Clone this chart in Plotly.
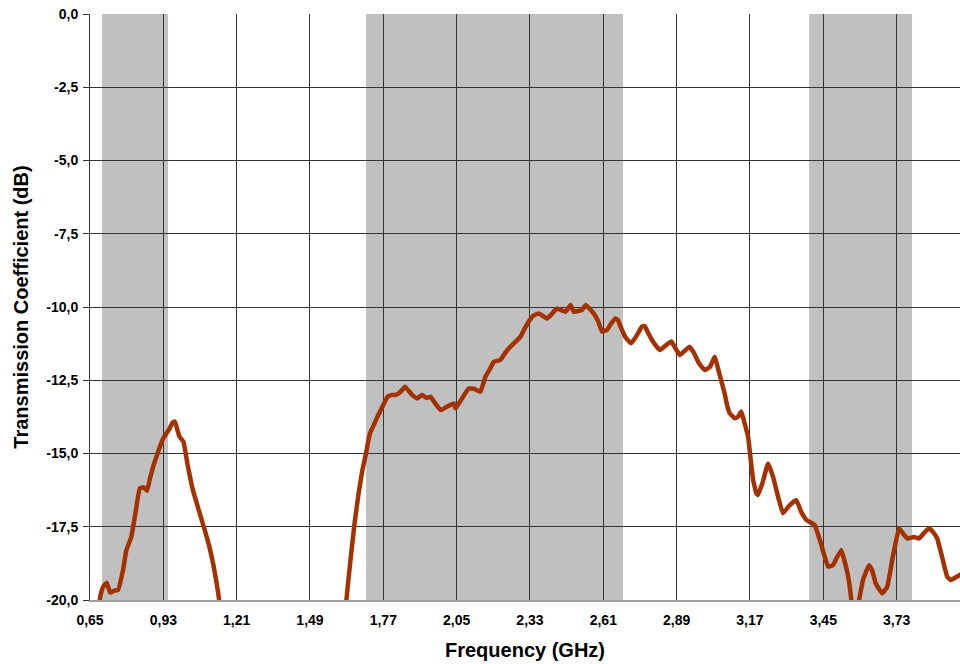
import plotly.graph_objects as go

# Frequency (GHz) and transmission coefficient (dB)
freq = [
    0.680, 0.690, 0.700, 0.714, 0.727, 0.742, 0.757, 0.776, 0.789, 0.808, 0.824, 0.840,
    0.854, 0.868, 0.879, 0.891, 0.904, 0.917, 0.929, 0.942, 0.954, 0.964, 0.974, 0.984,
    0.992, 1.007, 1.023, 1.043, 1.066, 1.088, 1.105, 1.120, 1.133, 1.143, 1.156,
    1.618, 1.629, 1.645, 1.660, 1.675, 1.689, 1.704, 1.719, 1.735, 1.748, 1.767, 1.786,
    1.803, 1.818, 1.835, 1.853, 1.866, 1.880, 1.899, 1.918, 1.934, 1.950, 1.969, 1.989,
    2.014, 2.039, 2.046, 2.072, 2.096, 2.118, 2.141, 2.160, 2.178, 2.192, 2.217, 2.233,
    2.249, 2.273, 2.294, 2.312, 2.325, 2.342, 2.363, 2.395, 2.412, 2.433, 2.466, 2.485,
    2.497, 2.529, 2.543, 2.573, 2.591, 2.605, 2.624, 2.641, 2.656, 2.666, 2.681, 2.696,
    2.716, 2.736, 2.757, 2.768, 2.782, 2.805, 2.826, 2.850, 2.870, 2.885, 2.902, 2.920,
    2.940, 2.955, 2.974, 2.997, 3.017, 3.035, 3.054, 3.073, 3.084, 3.093, 3.112, 3.124,
    3.137, 3.149, 3.163, 3.174, 3.182, 3.194, 3.200, 3.218, 3.239, 3.258, 3.278, 3.296,
    3.318, 3.347, 3.366, 3.386, 3.417, 3.442, 3.468, 3.487, 3.502, 3.519, 3.532, 3.545,
    3.557, 3.565, 3.579, 3.587, 3.602, 3.625, 3.637, 3.650, 3.675, 3.694, 3.716, 3.739,
    3.756, 3.771, 3.796, 3.816, 3.836, 3.854, 3.871, 3.885, 3.900, 3.923, 3.936, 3.961,
    3.980,
]
s21 = [
    -20.40, -19.85, -19.55, -19.41, -19.75, -19.68, -19.66, -18.98, -18.30, -17.84, -17.00, -16.19,
    -16.15, -16.27, -15.85, -15.45, -15.10, -14.77, -14.50, -14.31, -14.15, -13.95, -13.91, -14.20,
    -14.43, -14.60, -15.40, -16.25, -16.95, -17.61, -18.15, -18.75, -19.40, -20.00, -21.50,
    -21.50, -20.00, -18.60, -17.40, -16.40, -15.62, -14.99, -14.31, -14.00, -13.74, -13.40, -13.06,
    -13.00, -13.00, -12.90, -12.72, -12.85, -13.00, -13.12, -13.00, -13.10, -13.06, -13.30, -13.52,
    -13.40, -13.29, -13.46, -13.10, -12.78, -12.80, -12.89, -12.38, -12.10, -11.87, -11.81, -11.60,
    -11.41, -11.20, -11.01, -10.70, -10.50, -10.30, -10.22, -10.39, -10.25, -10.05, -10.16, -9.93,
    -10.16, -10.10, -9.93, -10.22, -10.50, -10.84, -10.78, -10.55, -10.39, -10.45, -10.78, -11.05,
    -11.24, -11.00, -10.67, -10.65, -10.90, -11.25, -11.47, -11.30, -11.18, -11.40, -11.64, -11.50,
    -11.36, -11.55, -11.90, -12.15, -12.05, -11.70, -12.30, -12.94, -13.40, -13.63, -13.80, -13.75,
    -13.57, -13.95, -14.43, -15.30, -15.90, -16.35, -16.42, -16.00, -15.34, -15.79, -16.50, -17.04,
    -16.80, -16.59, -17.00, -17.27, -17.44, -18.10, -18.86, -18.81, -18.55, -18.29, -18.70, -19.20,
    -20.00, -20.80, -20.80, -20.00, -19.30, -18.81, -19.00, -19.43, -19.77, -19.55, -18.50, -17.55,
    -17.75, -17.90, -17.85, -17.90, -17.70, -17.55, -17.70, -17.90, -18.40, -19.20, -19.32, -19.20,
    -19.10,
]

# Shaded frequency bands (GHz)
band_start = [0.696, 1.704, 3.396]
band_end = [0.948, 2.685, 3.789]

x_ticks = [0.65, 0.93, 1.21, 1.49, 1.77, 2.05, 2.33, 2.61, 2.89, 3.17, 3.45, 3.73]
y_ticks = [0.0, -2.5, -5.0, -7.5, -10.0, -12.5, -15.0, -17.5, -20.0]
x_labels = [f"{v:.2f}".replace(".", ",") for v in x_ticks]
y_labels = [f"{v:.1f}".replace(".", ",") for v in y_ticks]

fig = go.Figure()
fig.add_trace(go.Scatter(
    x=freq, y=s21, mode="lines",
    line=dict(color="#A33200", width=4.5, shape="spline", smoothing=0.3),
    showlegend=False, hoverinfo="x+y",
))

for a, b in zip(band_start, band_end):
    fig.add_shape(type="rect", xref="x", yref="paper", x0=a, x1=b, y0=0, y1=1,
                  fillcolor="#C0C0C0", line=dict(width=0), layer="below")

font_fam = "Liberation Sans, Arial, sans-serif"
fig.update_layout(
    width=960, height=664,
    margin=dict(l=90, r=0, t=14, b=64),
    paper_bgcolor="white", plot_bgcolor="white",
    font=dict(family=font_fam, color="black"),
    xaxis=dict(
        range=[0.65, 3.972], tickvals=x_ticks, ticktext=x_labels,
        showgrid=True, gridcolor="#333333", gridwidth=1,
        showline=True, linecolor="#A0A0A0", linewidth=2,
        ticks="", ticklabelstandoff=6,
        tickfont=dict(size=14, family=font_fam, weight="bold"),
        title=dict(text="<b>Frequency (GHz)</b>", font=dict(size=20), standoff=16),
        zeroline=False,
    ),
    yaxis=dict(
        range=[-20, 0], tickvals=y_ticks, ticktext=y_labels,
        showgrid=True, gridcolor="#333333", gridwidth=1,
        showline=True, linecolor="#333333", linewidth=1,
        ticks="outside", ticklen=6, tickcolor="#333333", ticklabelstandoff=2,
        tickfont=dict(size=14, family=font_fam, weight="bold"),
        title=dict(text="<b>Transmission Coefficient (dB)</b>", font=dict(size=20), standoff=12),
        zeroline=False,
    ),
)

fig.write_html("out.html", config={"displayModeBar": False},
               post_script="document.body.style.margin='0px';")
